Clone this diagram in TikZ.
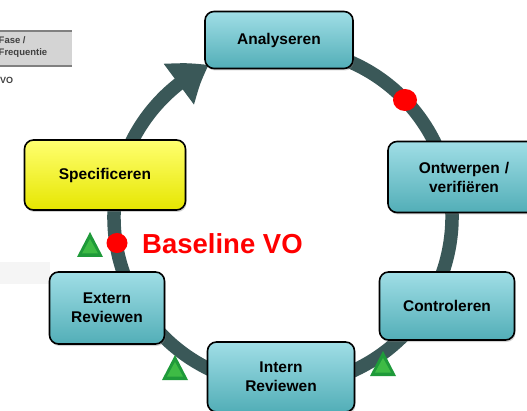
\documentclass[tikz,border=0pt]{standalone}
\usepackage{fontspec}
\setmainfont{Liberation Sans}
\usetikzlibrary{arrows.meta,bending,shadows}

\definecolor{ringc}{HTML}{3A5858}
\definecolor{cyanTop}{HTML}{A0DEE6}
\definecolor{cyanMid}{HTML}{6CC8D0}
\definecolor{cyanBot}{HTML}{52AEB7}
\definecolor{yelTop}{HTML}{FFFF70}
\definecolor{yelMid}{HTML}{FFFF00}
\definecolor{yelBot}{HTML}{E6E600}
\definecolor{grnOut}{HTML}{1F9A3A}
\definecolor{grnIn}{HTML}{3EBB45}
\definecolor{dotred}{HTML}{FF0000}

\tikzset{
  phase/.style={draw=black, line width=1.6pt, rounded corners=9pt,
    top color=cyanTop, middle color=cyanMid, bottom color=cyanBot,
    drop shadow={shadow xshift=1pt, shadow yshift=-2pt, opacity=0.35},
    font=\bfseries\fontsize{15.5}{19}\selectfont, align=center,
    inner sep=0pt},
  phaseY/.style={phase, top color=yelTop, middle color=yelMid, bottom color=yelBot},
  ring/.style={draw=ringc, line width=13.5pt},
  milestone/.style={fill=dotred, draw=none},
}

\begin{document}
\begin{tikzpicture}[x=1pt,y=-1pt]
  \useasboundingbox (0,0) rectangle (527,411);

  % leftover table fragments in the background
  \fill[black!4] (0,262) rectangle (50,284);
  \fill[black!17] (0,30) rectangle (72,67);
  \draw[black!50, line width=2pt] (0,31) -- (72,31) (0,66) -- (72,66);
  \node (tbl) [anchor=north west, inner sep=0pt, align=left,
    font=\bfseries\fontsize{9.5}{12.5}\selectfont, text=black!75]
    at (-1.5,36) {Fase /\\Frequentie};
  \node (vo) [anchor=west, inner sep=0pt, font=\bfseries\fontsize{9}{10}\selectfont,
    text=black!75] at (0,80) {VO};

  % the cycle
  \coordinate (c) at (283,217);
  \draw[ring, -{Triangle[length=36pt,width=48pt,bend]}]
    ([shift={(-80:169)}]c) arc[start angle=-80, end angle=244, radius=169];

  % phases
  \node (ana) [phase, minimum width=148pt, minimum height=57pt] at (279,40) {Analyseren};
  \node (ont) [phase, minimum width=152pt, minimum height=71pt, text width=100pt]
    at (464,177) {Ontwerpen /\\verifiëren};
  \node (con) [phase, minimum width=135pt, minimum height=68pt] at (447,306) {Controleren};
  \node (int) [phase, minimum width=147pt, minimum height=70pt] at (281,377) {Intern\\Reviewen};
  \node (ext) [phase, minimum width=115pt, minimum height=72pt] at (107,308) {Extern\\Reviewen};
  \node (spe) [phaseY, minimum width=161pt, minimum height=70pt] at (105,175) {Specificeren};

  % milestones
  \fill[milestone] (405,100) ellipse[x radius=12pt, y radius=11pt];
  \fill[milestone] (117,243) ellipse[x radius=10.5pt, y radius=10pt];
  \node (base) [anchor=west, inner sep=0pt, text=dotred,
    font=\bfseries\fontsize{27.5}{32}\selectfont] at (142,244) {Baseline VO};

  % review markers
  \foreach \n/\x/\y in {tA/90/245, tB/175/368, tC/383/364}{
    \fill[grnOut] (\x-13,\y+12) -- (\x,\y-13) -- (\x+13,\y+12) -- cycle;
    \fill[grnIn] (\x-8,\y+8.5) -- (\x,\y-6) -- (\x+8,\y+8.5) -- cycle;
  }
\end{tikzpicture}
\end{document}
